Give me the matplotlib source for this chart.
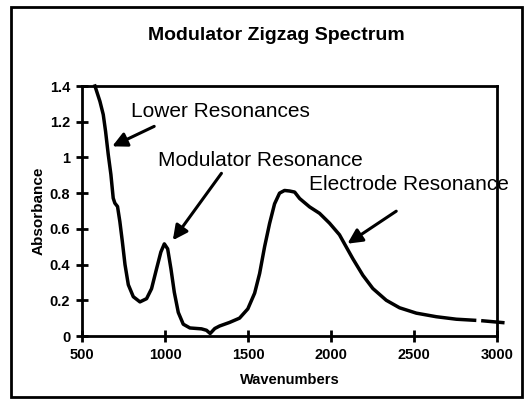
import matplotlib
matplotlib.use("Agg")
import matplotlib.pyplot as plt
import numpy as np
from matplotlib.patches import Rectangle

plt.rcParams["font.family"] = ["Liberation Sans", "DejaVu Sans"]

# spectrum (NaN marks the small gap in the trace near 2890)
wavenumbers = [578, 608, 628, 642, 658, 674, 688, 698, 714, 728, 743, 759, 779,
               809, 849, 889, 919, 949, 975, 996, 1016, 1036, 1056, 1080, 1110,
               1150, 1220, 1250, 1272, 1300, 1329, 1389, 1449, 1499, 1540, 1570,
               1600, 1630, 1660, 1690, 1720, 1750, 1781, 1811, 1871, 1931, 1991,
               2051, 2082, 2132, 2192, 2252, 2333, 2413, 2514, 2634, 2755, 2865,
               2890, 2915, 3035]
absorbance = [1.40, 1.314, 1.240, 1.146, 1.017, 0.905, 0.772, 0.744, 0.725,
              0.641, 0.529, 0.400, 0.287, 0.220, 0.191, 0.209, 0.265, 0.376,
              0.470, 0.516, 0.488, 0.375, 0.245, 0.132, 0.066, 0.045, 0.040,
              0.032, 0.014, 0.042, 0.056, 0.076, 0.100, 0.152, 0.240, 0.350,
              0.500, 0.630, 0.740, 0.800, 0.815, 0.812, 0.806, 0.770, 0.723,
              0.687, 0.632, 0.567, 0.515, 0.432, 0.340, 0.266, 0.200, 0.158,
              0.128, 0.108, 0.094, 0.088, np.nan, 0.085, 0.075]

x_ticks = [500, 1000, 1500, 2000, 2500, 3000]
y_ticks = [0, 0.2, 0.4, 0.6, 0.8, 1.0, 1.2, 1.4]
y_tick_labels = ["0", "0.2", "0.4", "0.6", "0.8", "1", "1.2", "1.4"]

# (label, text position, arrow tail, arrow head)
notes = [
    ("Lower Resonances", (794, 1.259), (935, 1.174), (682, 1.062)),
    ("Modulator Resonance", (955, 0.981), (1340, 0.911), (1047, 0.536)),
    ("Electrode Resonance", (1866, 0.846), (2393, 0.699), (2099, 0.517)),
]

fig = plt.figure(figsize=(5.27, 4.01), dpi=100)
ax = fig.add_axes([82 / 527, 1 - 336 / 401, 415 / 527, 250 / 401])

ax.plot(wavenumbers, absorbance, color="black", lw=2.5,
        solid_joinstyle="round", clip_on=False)
ax.set_xlim(500, 3000)
ax.set_ylim(0, 1.4)
ax.set_xticks(x_ticks)
ax.set_yticks(y_ticks)
ax.set_yticklabels(y_tick_labels)

for side in ["left", "bottom", "right", "top"]:
    ax.spines[side].set_linewidth(2)
ax.tick_params(direction="inout", length=9, width=2, labelsize=10.5, pad=4)
for lbl in ax.get_xticklabels() + ax.get_yticklabels():
    lbl.set_fontweight("bold")

ax.set_xlabel("Wavenumbers", fontsize=10.5, fontweight="bold", labelpad=8)
ax.set_ylabel("Absorbance", fontsize=11, fontweight="bold", labelpad=3)

fig.text(276 / 527, 1 - 35 / 401, "Modulator Zigzag Spectrum",
         ha="center", va="center", fontsize=14, fontweight="bold")

for label, txt_pos, tail, head in notes:
    ax.text(txt_pos[0], txt_pos[1], label, fontsize=15, va="center", ha="left")
    ax.annotate("", xy=head, xytext=tail,
                arrowprops=dict(arrowstyle="-|>", lw=2.2, color="black",
                                mutation_scale=22, shrinkA=0, shrinkB=0))

# outer border around the whole chart
fig.patches.append(Rectangle((11 / 527, 1 - 397 / 401), 511 / 527, 390 / 401,
                             transform=fig.transFigure, fill=False,
                             lw=2, edgecolor="black"))

fig.savefig("out.png", dpi=100)
